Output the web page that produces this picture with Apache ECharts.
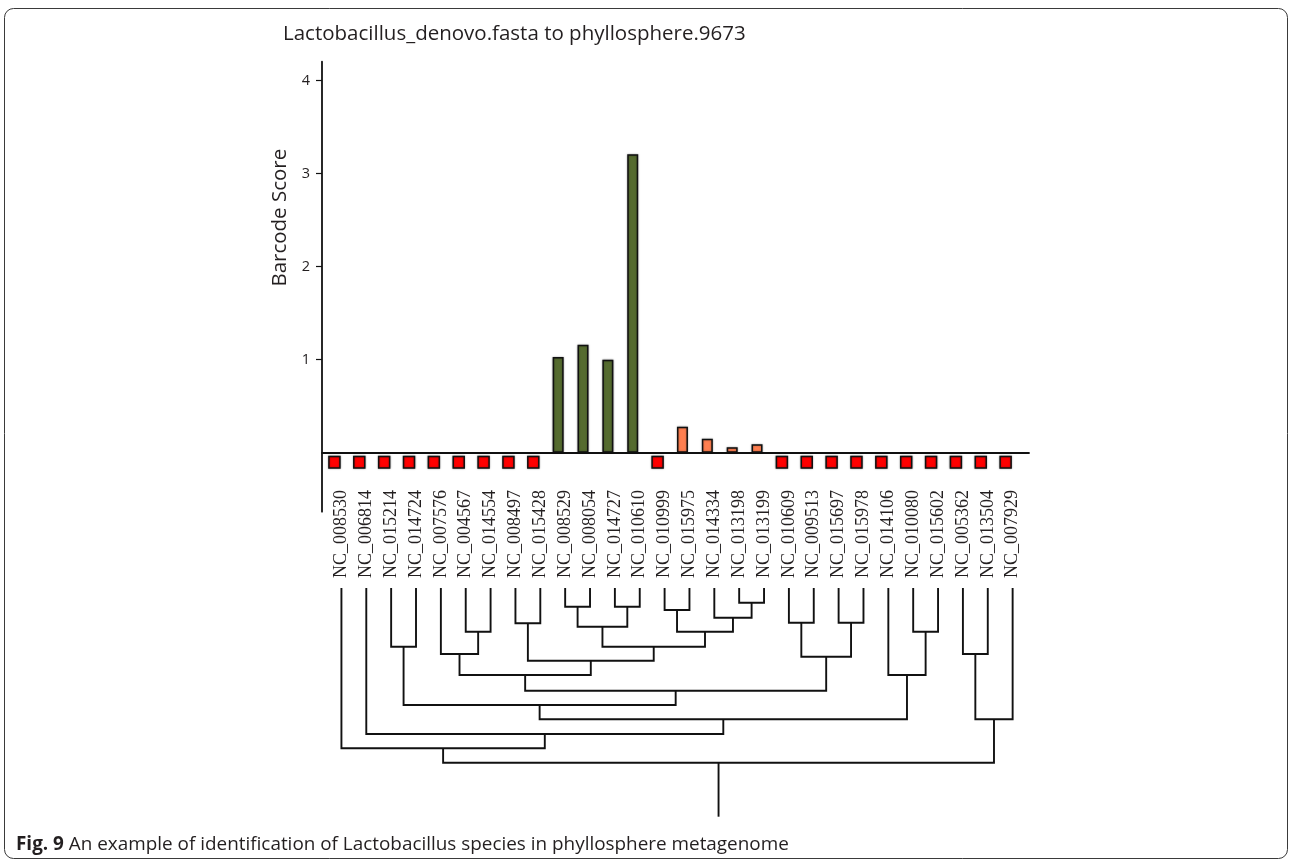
<!DOCTYPE html>
<html>
<head>
<meta charset="utf-8">
<title>Lactobacillus barcode scores</title>
<script src="https://cdn.jsdelivr.net/npm/echarts@6/dist/echarts.min.js"></script>
<style>
  html, body { margin: 0; padding: 0; background: #ffffff; }
  #chart { width: 1293px; height: 862px; }
</style>
</head>
<body>
<div id="chart"></div>
<script>
// Reference genomes, in dendrogram leaf order
const accessions = [
  'NC_008530', 'NC_006814', 'NC_015214', 'NC_014724', 'NC_007576', 'NC_004567', 'NC_014554',
  'NC_008497', 'NC_015428', 'NC_008529', 'NC_008054', 'NC_014727', 'NC_010610', 'NC_010999',
  'NC_015975', 'NC_014334', 'NC_013198', 'NC_013199', 'NC_010609', 'NC_009513', 'NC_015697',
  'NC_015978', 'NC_014106', 'NC_010080', 'NC_015602', 'NC_005362', 'NC_013504', 'NC_007929'
];

// Barcode score of each genome; null where the genome was not detected
const barcodeScores = [
  null, null, null, null, null, null, null, null, null,
  1.03, 1.16, 1.00, 3.21,
  null,
  0.28, 0.15, 0.06, 0.09,
  null, null, null, null, null, null, null, null, null, null
];

// 2 = strong hit, 1 = weak hit, 0 = not detected
const matchLevel = [
  0, 0, 0, 0, 0, 0, 0, 0, 0,
  2, 2, 2, 2,
  0,
  1, 1, 1, 1,
  0, 0, 0, 0, 0, 0, 0, 0, 0, 0
];

const scoreTicks = [1, 2, 3, 4];

// Hierarchical clustering of the genomes: [childA, childB, height].
// Ids 0..27 are leaves; merge k gets id 28 + k.
const merges = [
  [16, 17, 14.7],   // 28
  [9, 10, 18.7],    // 29
  [11, 12, 18.7],   // 30
  [13, 14, 22.0],   // 31
  [15, 28, 29.7],   // 32
  [18, 19, 34.7],   // 33
  [20, 21, 34.7],   // 34
  [7, 8, 35.3],     // 35
  [29, 30, 38.7],   // 36
  [5, 6, 43.7],     // 37
  [23, 24, 43.7],   // 38
  [31, 32, 43.7],   // 39
  [2, 3, 58.7],     // 40
  [36, 39, 58.7],   // 41
  [4, 37, 66.0],    // 42
  [25, 26, 66.0],   // 43
  [33, 34, 68.7],   // 44
  [35, 41, 72.7],   // 45
  [42, 45, 87.0],   // 46
  [22, 38, 87.0],   // 47
  [46, 44, 102.7],  // 48
  [40, 48, 117.0],  // 49
  [49, 47, 131.3],  // 50
  [27, 43, 131.3],  // 51
  [1, 50, 146.0],   // 52
  [0, 52, 160.3],   // 53
  [53, 51, 174.7]   // 54
];
const rootStemHeight = 228.7;

// ---- derived structures -------------------------------------------------
const nLeaves = accessions.length;
const slot = i => i + 0.5;              // category centre on the numeric x axis
const xSpan = 28.44;                    // x axis extent (slightly wider than the 28 slots)

const levelColors = ['#ff0000', '#ff7f50', '#556b2f'];
const ABSENT_TOP = -0.04;               // marker starts just below the baseline
const ABSENT_DEPTH = 0.125;             // depth of the "not detected" marker
const BAR_WIDTH = 11;

const scoreData = [];
const absentData = [];
barcodeScores.forEach((v, i) => {
  if (v === null) {
    absentData.push([slot(i), ABSENT_TOP]);
  } else {
    scoreData.push({ value: [slot(i), v], itemStyle: { color: levelColors[matchLevel[i]] } });
  }
});

// node positions for the dendrogram
const nodeX = [], nodeH = [];
for (let i = 0; i < nLeaves; i++) { nodeX.push(slot(i)); nodeH.push(0); }
const segments = [];
merges.forEach(([a, b, h]) => {
  segments.push([[nodeX[a], nodeH[a]], [nodeX[a], h], [nodeX[b], h], [nodeX[b], nodeH[b]]]);
  nodeX.push((nodeX[a] + nodeX[b]) / 2);
  nodeH.push(h);
});
const rootId = nodeX.length - 1;
segments.push([[nodeX[rootId], nodeH[rootId]], [nodeX[rootId], rootStemHeight]]);

// ---- chart --------------------------------------------------------------
const chart = echarts.init(document.getElementById('chart'), null, { renderer: 'canvas' });

const sansFont = '"Open Sans", "Noto Sans", sans-serif';
const serifFont = '"Liberation Serif", "DejaVu Serif", serif';
const ink = '#231f20';
const barEdge = {
  borderColor: '#111111',
  borderWidth: 1.5,
  shadowColor: 'rgba(0,0,0,0.35)',
  shadowBlur: 2
};

const option = {
  backgroundColor: '#ffffff',
  animation: false,
  title: [
    {
      text: 'Lactobacillus_denovo.fasta to phyllosphere.9673',
      left: 283,
      top: 24,
      padding: 0,
      textStyle: { fontFamily: sansFont, fontSize: 20.5, fontWeight: 'normal', color: ink }
    },
    {
      text: '{b|Fig. 9} An example of identification of Lactobacillus species in phyllosphere metagenome',
      left: 16,
      top: 835,
      padding: 0,
      textStyle: {
        fontFamily: sansFont, fontSize: 18.9, fontWeight: 'normal', color: ink,
        rich: { b: { fontFamily: sansFont, fontSize: 18.9, fontWeight: 'bold', color: ink } }
      }
    }
  ],
  graphic: [
    {
      type: 'rect',
      shape: { x: 4.5, y: 8.5, width: 1283, height: 850, r: 9 },
      style: { fill: null, stroke: '#3a3a3a', lineWidth: 1 },
      silent: true,
      z: -1
    }
  ],
  grid: [
    { left: 322, top: 61.7, width: 707, height: 450, outerBoundsMode: 'none', containLabel: false },
    { left: 329, top: 588, width: 707, height: 228.7, outerBoundsMode: 'none', containLabel: false }
  ],
  xAxis: [
    {
      gridIndex: 0, type: 'value', min: 0, max: xSpan,
      axisLine: { show: true, onZero: true, lineStyle: { color: '#111', width: 1.8 } },
      axisTick: { show: false },
      axisLabel: { show: false },
      splitLine: { show: false }
    },
    {
      gridIndex: 1, type: 'value', min: 0, max: xSpan, position: 'top',
      axisLine: { show: false },
      axisTick: { show: false },
      splitLine: { show: false },
      axisLabel: {
        show: true,
        customValues: accessions.map((_, i) => slot(i)),
        formatter: v => accessions[Math.round(v - 0.5)],
        rotate: 90,
        margin: 10,
        fontFamily: serifFont,
        fontSize: 18,
        color: ink
      }
    }
  ],
  yAxis: [
    {
      gridIndex: 0, type: 'value', min: -0.634, max: 4.204,
      name: 'Barcode Score',
      nameLocation: 'middle',
      nameRotate: 90,
      nameGap: 27,
      nameTextStyle: {
        fontFamily: sansFont, fontSize: 20.5, color: ink,
        padding: [0, 0, 0, 138]
      },
      axisLine: { show: true, onZero: false, lineStyle: { color: '#111', width: 1.8 } },
      axisTick: {
        show: true, inside: false, length: 6,
        customValues: scoreTicks,
        lineStyle: { color: '#111', width: 1.2 }
      },
      axisLabel: {
        customValues: scoreTicks,
        margin: 12,
        fontFamily: sansFont, fontSize: 14.5, color: ink
      },
      splitLine: { show: false }
    },
    {
      gridIndex: 1, type: 'value', min: 0, max: rootStemHeight, inverse: true, show: false
    }
  ],
  series: [
    {
      name: 'score', type: 'bar',
      xAxisIndex: 0, yAxisIndex: 0,
      barWidth: BAR_WIDTH,
      itemStyle: barEdge,
      data: scoreData,
      z: 3
    },
    {
      // "not detected" markers hanging just below the baseline
      name: 'not detected', type: 'custom',
      coordinateSystem: 'cartesian2d',
      xAxisIndex: 0, yAxisIndex: 0,
      encode: { x: 0, y: 1 },
      data: absentData,
      z: 3,
      renderItem: (params, api) => {
        const x = api.value(0);
        const top = api.coord([x, api.value(1)]);
        const bottom = api.coord([x, api.value(1) - ABSENT_DEPTH]);
        return {
          type: 'rect',
          shape: { x: top[0] - BAR_WIDTH / 2, y: top[1], width: BAR_WIDTH, height: bottom[1] - top[1] },
          style: Object.assign({ fill: levelColors[0], stroke: barEdge.borderColor, lineWidth: barEdge.borderWidth,
            shadowColor: barEdge.shadowColor, shadowBlur: barEdge.shadowBlur })
        };
      }
    },
    {
      name: 'clustering', type: 'custom',
      coordinateSystem: 'cartesian2d',
      xAxisIndex: 1, yAxisIndex: 1,
      clip: false,
      silent: true,
      encode: { x: 0, y: 1 },
      data: segments.map(s => s[0]),
      renderItem: (params, api) => {
        const pts = segments[params.dataIndex].map(p => api.coord(p));
        return {
          type: 'polyline',
          shape: { points: pts },
          style: { stroke: '#111111', lineWidth: 1.9, fill: null }
        };
      }
    }
  ]
};

chart.setOption(option);
</script>
</body>
</html>
